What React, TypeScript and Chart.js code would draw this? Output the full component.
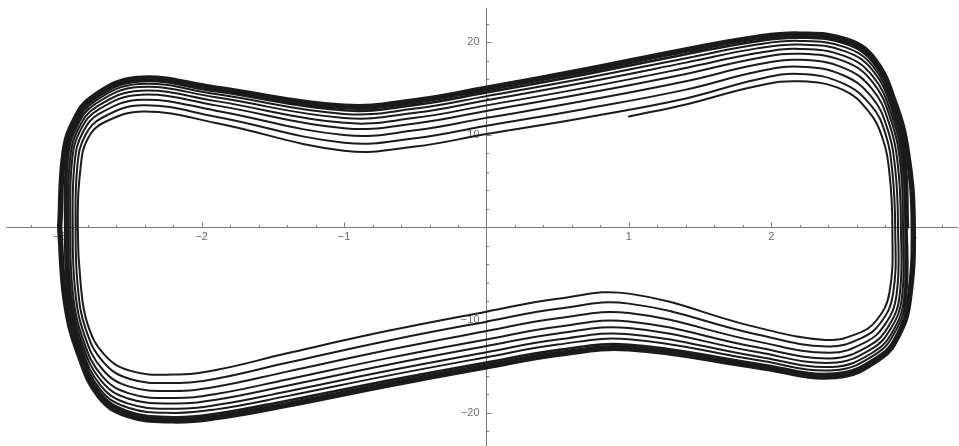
import React, { useEffect, useRef } from "react";
import { Chart, registerables } from "chart.js";

Chart.register(...registerables);

// ---- axis ticks (Mathematica-style axes through the origin) ----
const xMajorTicks = [-3, -2, -1, 1, 2, 3];
const xTickLabels = ["\u22123", "\u22122", "\u22121", "1", "2", "3"];
const yMajorTicks = [-20, -10, 10, 20];
const yTickLabels = ["\u221220", "\u221210", "10", "20"];

// ---- trajectory (phase portrait) ----
// top halves (moving right), bottom halves (moving left); start at (1, 12)
const h0 = [[1.0, 12.0], [1.4, 13.3], [1.9, 15.3], [2.2, 15.8], [2.5, 14.9], [2.68, 12.6], [2.78, 9.7], [2.83, 5.8], [2.85, 0]];
const b1 = [[2.85, 0], [2.83, -7.0], [2.74, -10.0], [2.6, -11.5], [2.38, -12.15], [1.9, -10.8], [1.0, -7.15], [0.5, -7.7], [0, -9.1], [-0.7, -11.2], [-1.4, -13.6], [-1.9, -15.4], [-2.2, -15.9], [-2.5, -15.5], [-2.68, -13.8], [-2.8, -10.5], [-2.85, -6.0], [-2.87, 0]];
const h1 = [[-2.87, 0], [-2.85, 6.5], [-2.8, 9.6], [-2.68, 11.4], [-2.4, 12.55], [-1.9, 11.3], [-1.0, 8.3], [-0.5, 8.75], [0, 10.1], [0.7, 11.9], [1.4, 13.95], [1.9, 16.0], [2.2, 16.6], [2.5, 15.6], [2.7, 13.2], [2.8, 10.2], [2.85, 6.0], [2.87, 0]];
const b2 = [[2.87, 0], [2.855, -7.18], [2.769, -10.27], [2.631, -11.97], [2.393, -12.87], [1.9, -11.57], [1.0, -8.23], [0.5, -8.79], [0, -10.18], [-0.7, -12.26], [-1.4, -14.62], [-1.9, -16.34], [-2.2, -16.81], [-2.504, -16.37], [-2.687, -14.61], [-2.813, -11.04], [-2.87, -6.36], [-2.885, 0]];
const h2 = [[-2.885, 0], [-2.872, 6.77], [-2.818, 9.94], [-2.696, 11.89], [-2.409, 13.2], [-1.9, 11.98], [-1.0, 9.17], [-0.5, 9.65], [0, 11.0], [0.7, 12.84], [1.4, 14.9], [1.9, 16.83], [2.2, 17.38], [2.504, 16.46], [2.704, 14.12], [2.813, 10.79], [2.87, 6.36], [2.89, 0]];
const b3 = [[2.89, 0], [2.879, -7.35], [2.796, -10.53], [2.66, -12.41], [2.405, -13.55], [1.9, -12.31], [1.0, -9.25], [0.5, -9.82], [0, -11.2], [-0.7, -13.27], [-1.4, -15.58], [-1.9, -17.22], [-2.2, -17.67], [-2.507, -17.2], [-2.694, -15.38], [-2.825, -11.55], [-2.889, -6.7], [-2.905, 0]];
const h3 = [[-2.905, 0], [-2.892, 7.03], [-2.835, 10.27], [-2.712, 12.35], [-2.418, 13.81], [-1.9, 12.63], [-1.0, 10.0], [-0.5, 10.5], [0, 11.85], [0.7, 13.72], [1.4, 15.81], [1.9, 17.61], [2.2, 18.12], [2.507, 17.26], [2.707, 14.99], [2.825, 11.36], [2.889, 6.7], [2.91, 0]];
const b4 = [[2.91, 0], [2.9, -7.5], [2.82, -10.75], [2.685, -12.8], [2.415, -14.15], [1.9, -12.95], [1.0, -10.15], [0.5, -10.73], [0, -12.1], [-0.7, -14.15], [-1.4, -16.43], [-1.9, -18.0], [-2.2, -18.43], [-2.51, -17.93], [-2.7, -16.05], [-2.835, -12.0], [-2.905, -7.0], [-2.922, 0]];
const h4 = [[-2.922, 0], [-2.91, 7.25], [-2.85, 10.55], [-2.725, 12.75], [-2.425, 14.35], [-1.9, 13.2], [-1.0, 10.73], [-0.5, 11.25], [0, 12.6], [0.7, 14.5], [1.4, 16.6], [1.9, 18.3], [2.2, 18.78], [2.51, 17.98], [2.71, 15.75], [2.835, 11.85], [2.905, 7.0], [2.925, 0]];
const b5 = [[2.925, 0], [2.917, -7.62], [2.839, -10.93], [2.705, -13.11], [2.423, -14.63], [1.9, -13.47], [1.0, -10.87], [0.5, -11.45], [0, -12.82], [-0.7, -14.86], [-1.4, -17.1], [-1.9, -18.62], [-2.2, -19.03], [-2.512, -18.51], [-2.705, -16.59], [-2.843, -12.36], [-2.918, -7.24], [-2.937, 0]];
const h5 = [[-2.937, 0], [-2.924, 7.43], [-2.862, 10.78], [-2.736, 13.07], [-2.431, 14.78], [-1.9, 13.66], [-1.0, 11.31], [-0.5, 11.85], [0, 13.2], [0.7, 15.12], [1.4, 17.24], [1.9, 18.85], [2.2, 19.3], [2.512, 18.55], [2.712, 16.36], [2.843, 12.25], [2.918, 7.24], [2.94, 0]];
const b6 = [[2.94, 0], [2.932, -7.73], [2.857, -11.1], [2.724, -13.4], [2.431, -15.07], [1.9, -13.94], [1.0, -11.53], [0.5, -12.12], [0, -13.48], [-0.7, -15.51], [-1.4, -17.72], [-1.9, -19.2], [-2.2, -19.59], [-2.515, -19.04], [-2.709, -17.09], [-2.851, -12.69], [-2.93, -7.46], [-2.95, 0]];
const h6 = [[-2.95, 0], [-2.938, 7.6], [-2.873, 10.99], [-2.746, 13.37], [-2.437, 15.18], [-1.9, 14.07], [-1.0, 11.84], [-0.5, 12.4], [0, 13.75], [0.7, 15.7], [1.4, 17.82], [1.9, 19.36], [2.2, 19.78], [2.515, 19.07], [2.715, 16.92], [2.851, 12.61], [2.93, 7.46], [2.952, 0]];
const b7 = [[2.952, 0], [2.945, -7.82], [2.871, -11.23], [2.739, -13.63], [2.437, -15.43], [1.9, -14.33], [1.0, -12.07], [0.5, -12.66], [0, -14.02], [-0.7, -16.04], [-1.4, -18.23], [-1.9, -19.66], [-2.2, -20.04], [-2.516, -19.48], [-2.713, -17.49], [-2.857, -12.96], [-2.94, -7.64], [-2.96, 0]];
const h7 = [[-2.96, 0], [-2.948, 7.73], [-2.882, 11.16], [-2.754, 13.61], [-2.441, 15.5], [-1.9, 14.42], [-1.0, 12.28], [-0.5, 12.85], [0, 14.2], [0.7, 16.16], [1.4, 18.3], [1.9, 19.77], [2.2, 20.17], [2.516, 19.5], [2.716, 17.38], [2.857, 12.91], [2.94, 7.64], [2.962, 0]];

// converged loops forming the thick limit-cycle band
const bandATop = [[-2.987, 0], [-2.958, 7.85], [-2.89, 11.31], [-2.761, 13.83], [-2.445, 15.79], [-1.9, 14.72], [-1.0, 12.67], [-0.5, 13.25], [0, 14.6], [0.7, 16.58], [1.4, 18.72], [1.9, 20.14], [2.2, 20.52], [2.518, 19.88], [2.718, 17.79], [2.863, 13.17], [2.949, 7.8], [2.987, 0]];
const bandABottom = [[2.987, 0], [2.958, -7.85], [2.89, -11.31], [2.761, -13.83], [2.445, -15.79], [1.9, -14.72], [1.0, -12.67], [0.5, -13.25], [0, -14.6], [-0.7, -16.58], [-1.4, -18.72], [-1.9, -20.14], [-2.2, -20.52], [-2.518, -19.88], [-2.718, -17.79], [-2.863, -13.17], [-2.949, -7.8], [-2.987, 0]];
const bandBTop = [[-2.994, 0], [-2.964, 7.93], [-2.895, 11.41], [-2.766, 13.97], [-2.448, 15.97], [-1.9, 14.91], [-1.0, 12.91], [-0.5, 13.5], [0, 14.85], [0.7, 16.84], [1.4, 18.99], [1.9, 20.37], [2.2, 20.73], [2.519, 20.11], [2.719, 18.05], [2.867, 13.34], [2.955, 7.9], [2.994, 0]];
const bandBBottom = [[2.994, 0], [2.964, -7.93], [2.895, -11.41], [2.766, -13.97], [2.448, -15.97], [1.9, -14.91], [1.0, -12.91], [0.5, -13.5], [0, -14.85], [-0.7, -16.84], [-1.4, -18.99], [-1.9, -20.37], [-2.2, -20.73], [-2.519, -20.11], [-2.719, -18.05], [-2.867, -13.34], [-2.955, -7.9], [-2.994, 0]];
const limitTop = [[-3.0, 0], [-2.97, 8.0], [-2.9, 11.5], [-2.77, 14.1], [-2.45, 16.15], [-1.9, 15.1], [-1.0, 13.15], [-0.5, 13.75], [0, 15.1], [0.7, 17.1], [1.4, 19.25], [1.9, 20.6], [2.2, 20.95], [2.52, 20.35], [2.72, 18.3], [2.87, 13.5], [2.96, 8.0], [3.0, 0]];
const limitBottom = [[3.0, 0], [2.97, -8.0], [2.9, -11.5], [2.77, -14.1], [2.45, -16.15], [1.9, -15.1], [1.0, -13.15], [0.5, -13.75], [0, -15.1], [-0.7, -17.1], [-1.4, -19.25], [-1.9, -20.6], [-2.2, -20.95], [-2.52, -20.35], [-2.72, -18.3], [-2.87, -13.5], [-2.96, -8.0], [-3.0, 0]];

const spiralHalves = [h0, b1, h1, b2, h2, b3, h3, b4, h4, b5, h5, b6, h6, b7, h7];

function joinHalves(halves: number[][][]) {
  const out: { x: number; y: number }[] = [];
  halves.forEach((half, i) => {
    const part = i === 0 ? half : half.slice(1);
    part.forEach(([x, y]) => out.push({ x, y }));
  });
  return out;
}

const LINE = "#1b1b1b";

const axesPlugin = {
  id: "mmaAxes",
  beforeDatasetsDraw(chart: any) {
    const { ctx, scales } = chart;
    const xs = scales.x;
    const ys = scales.y;
    const x0 = Math.round(xs.getPixelForValue(0)) + 0.5;
    const y0 = Math.round(ys.getPixelForValue(0)) + 0.5;
    ctx.save();
    ctx.strokeStyle = "#7a7a7a";
    ctx.lineWidth = 1;
    ctx.beginPath();
    ctx.moveTo(xs.getPixelForValue(-3.37), y0);
    ctx.lineTo(xs.getPixelForValue(3.31), y0);
    ctx.moveTo(x0, ys.getPixelForValue(23.75));
    ctx.lineTo(x0, ys.getPixelForValue(-23.62));
    for (let i = -16; i <= 16; i++) {
      if (i === 0) continue;
      const px = Math.round(xs.getPixelForValue(i / 5)) + 0.5;
      const len = i % 5 === 0 ? 5 : 2.5;
      ctx.moveTo(px, y0);
      ctx.lineTo(px, y0 - len);
    }
    for (let j = -11; j <= 11; j++) {
      if (j === 0) continue;
      const py = Math.round(ys.getPixelForValue(j * 2)) + 0.5;
      const len = (j * 2) % 10 === 0 ? 5 : 2.5;
      ctx.moveTo(x0, py);
      ctx.lineTo(x0 + len, py);
    }
    ctx.stroke();

    ctx.fillStyle = "#6e6e6e";
    ctx.font = "11px 'Liberation Sans', Arial, sans-serif";
    ctx.textAlign = "center";
    ctx.textBaseline = "middle";
    xMajorTicks.forEach((v, i) => {
      ctx.fillText(xTickLabels[i], xs.getPixelForValue(v), y0 + 9.5);
    });
    ctx.textAlign = "right";
    yMajorTicks.forEach((v, i) => {
      ctx.fillText(yTickLabels[i], x0 - 7, ys.getPixelForValue(v));
    });
    ctx.restore();
  },
};

export default function App() {
  const canvasRef = useRef<HTMLCanvasElement | null>(null);

  useEffect(() => {
    const canvas = canvasRef.current;
    if (!canvas) return;
    const common = {
      showLine: true,
      pointRadius: 0,
      pointHoverRadius: 0,
      tension: 0.42,
      fill: false,
      borderColor: LINE,
      borderJoinStyle: "round" as const,
      borderCapStyle: "round" as const,
    };
    const chart = new Chart(canvas, {
      type: "scatter",
      data: {
        datasets: [
          { ...common, data: joinHalves(spiralHalves), borderWidth: 2 },
          { ...common, data: joinHalves([bandATop, bandABottom]), borderWidth: 2.6 },
          { ...common, data: joinHalves([bandBTop, bandBBottom]), borderWidth: 2.6 },
          { ...common, data: joinHalves([limitTop, limitBottom]), borderWidth: 4.6 },
        ],
      },
      options: {
        animation: false,
        responsive: false,
        maintainAspectRatio: false,
        layout: { padding: 0 },
        events: [],
        plugins: {
          legend: { display: false },
          tooltip: { enabled: false },
        },
        scales: {
          x: { type: "linear", min: -3.416, max: 3.318, display: false },
          y: { type: "linear", min: -23.62, max: 24.59, display: false },
        },
      },
      plugins: [axesPlugin],
    });
    return () => chart.destroy();
  }, []);

  return (
    <div style={{ position: "absolute", left: 0, top: 0, width: 959, height: 446, background: "#fff" }}>
      <canvas ref={canvasRef} width={959} height={446} style={{ display: "block" }} />
    </div>
  );
}
